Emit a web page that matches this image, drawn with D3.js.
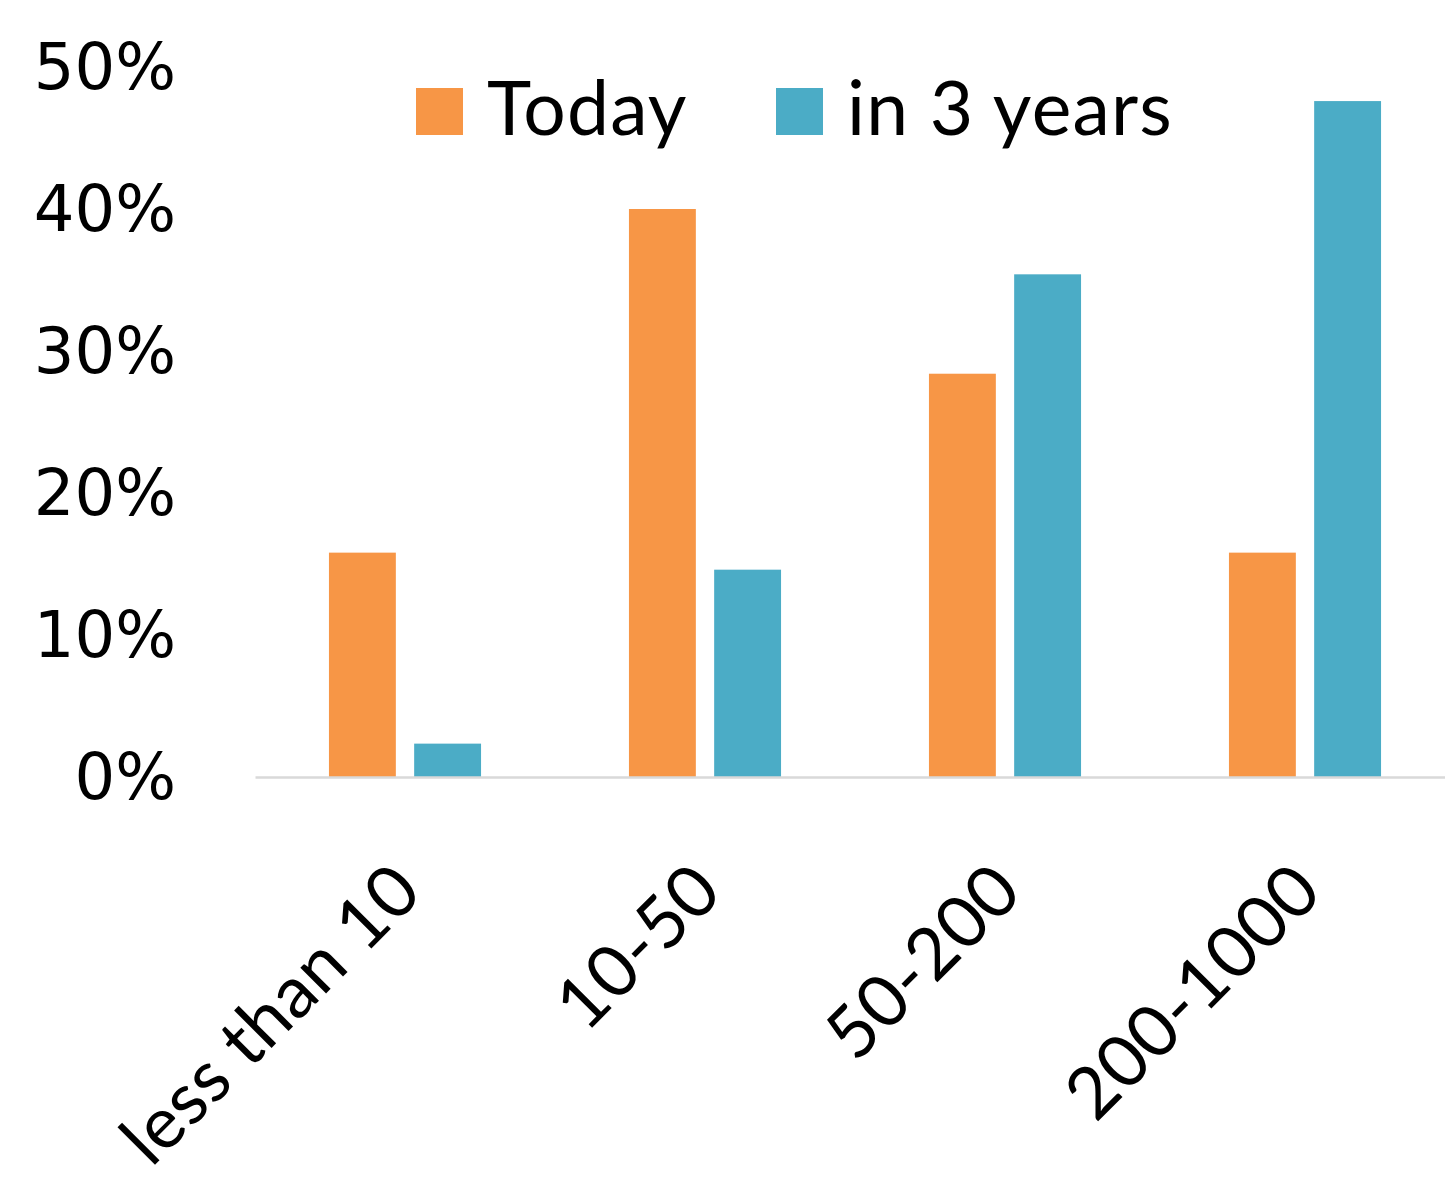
<!DOCTYPE html>
<html>
<head>
<meta charset="utf-8">
<script src="https://cdn.jsdelivr.net/npm/d3@7"></script>
<style>
  html, body { margin: 0; padding: 0; background: #fff; }
  svg { display: block; }
</style>
</head>
<body>
<svg id="chart" width="1445" height="1179"></svg>
<script>
// Company size groups and share of respondents (percent)
const categories = ["less than 10", "10-50", "50-200", "200-1000"];
const seriesNames = ["Today", "in 3 years"];
const todayValues = [15.8, 40.0, 28.4, 15.8];
const in3YearsValues = [2.35, 14.6, 35.4, 47.6];
const yTicks = [0, 10, 20, 30, 40, 50];
const seriesColors = ["#F79646", "#4BACC6"];

const seriesValues = [todayValues, in3YearsValues];
const rows = categories.map((c, i) => ({
  category: c,
  values: seriesNames.map((s, j) => ({ series: s, value: seriesValues[j][i], color: seriesColors[j] }))
}));

const svg = d3.select("#chart");

const x0 = d3.scaleBand()
  .domain(categories)
  .range([255, 1455])
  .paddingInner(0.493)
  .paddingOuter(0.2465);

const x1 = d3.scaleBand()
  .domain(seriesNames)
  .range([0, x0.bandwidth()])
  .paddingInner(0.215);

const y = d3.scaleLinear().domain([0, 50]).range([777, 67]);

// Y axis labels (no axis line, no ticks)
const yAxis = d3.axisLeft(y)
  .tickValues(yTicks)
  .tickFormat(d => d + "%")
  .tickSize(0)
  .tickPadding(0);

const yG = svg.append("g")
  .attr("transform", "translate(176,0)")
  .call(yAxis);
yG.select(".domain").remove();
yG.selectAll("text")
  .attr("font-family", "'DejaVu Sans', sans-serif")
  .attr("font-size", 64)
  .attr("fill", "#000")
  .attr("dy", "0.34em");

// Bars
const groups = svg.append("g")
  .selectAll("g")
  .data(rows)
  .join("g")
  .attr("transform", d => `translate(${x0(d.category)},0)`);

groups.selectAll("rect")
  .data(d => d.values)
  .join("rect")
  .attr("x", d => x1(d.series))
  .attr("width", x1.bandwidth())
  .attr("y", d => y(d.value))
  .attr("height", d => y(0) - y(d.value))
  .attr("fill", d => d.color);

// Category axis: baseline plus rotated labels
const xAxis = d3.axisBottom(x0).tickSize(0).tickPadding(0);
const xG = svg.append("g")
  .attr("transform", `translate(0,${y(0)})`)
  .call(xAxis);
xG.select(".domain")
  .attr("stroke", "#d9d9d9")
  .attr("stroke-width", 2.5);
xG.selectAll(".tick text")
  .attr("font-family", "Lato, 'Open Sans', sans-serif")
  .attr("font-size", 72)
  .attr("letter-spacing", 0.6)
  .attr("fill", "#000")
  .attr("text-anchor", "end")
  .attr("dy", "0.35em")
  .attr("transform", "translate(2,100) rotate(-45)");

// Legend
const legend = svg.append("g");
const legendX = [416, 776];
seriesNames.forEach((name, i) => {
  legend.append("rect")
    .attr("x", legendX[i])
    .attr("y", 88)
    .attr("width", 47)
    .attr("height", 47)
    .attr("fill", seriesColors[i]);
  legend.append("text")
    .attr("x", legendX[i] + 71)
    .attr("y", 135)
    .attr("font-family", "Lato, 'Open Sans', sans-serif")
    .attr("font-size", 75)
    .attr("letter-spacing", 1.2)
    .attr("fill", "#000")
    .text(name);
});
</script>
</body>
</html>
